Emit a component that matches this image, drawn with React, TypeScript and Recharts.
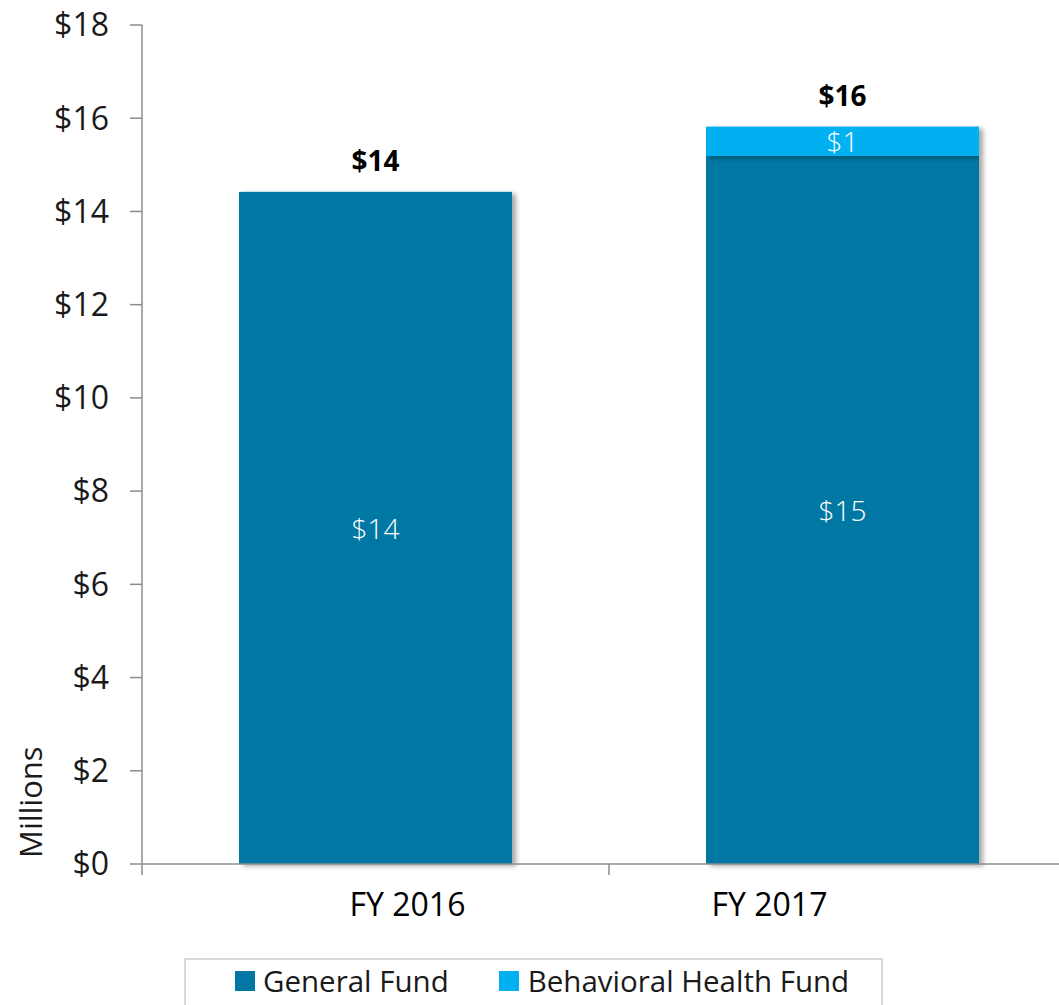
import React from 'react';
import { BarChart, Bar, XAxis, YAxis, LabelList, Legend } from 'recharts';

const categories = ['FY 2016', 'FY 2017'];
const generalFund = [14.42, 15.19];
const behavioralHealthFund = [0, 0.63];
const yTicks = [0, 2, 4, 6, 8, 10, 12, 14, 16, 18];

const GENERAL_COLOR = '#0078A3';
const BH_COLOR = '#00B0F0';
const AXIS_COLOR = '#8c8c8c';
const FONT = '"Open Sans", "Noto Sans", sans-serif';

const data = categories.map((name, i) => ({
  name,
  general: generalFund[i],
  bh: behavioralHealthFund[i],
  total: generalFund[i] + behavioralHealthFund[i],
}));

const money = (v: number) => `$${Math.round(v)}`;

const ShadowRect = (props: any) => {
  const { x, y, width, height, fill } = props;
  if (!height || height <= 0) return null;
  return <rect x={x} y={y} width={width} height={height} fill={fill} filter="url(#barShadow)" />;
};

const InnerLabel = (props: any) => {
  const { x, y, width, height, value } = props;
  if (!value || value <= 0) return null;
  return (
    <text
      x={x + width / 2}
      y={y + height / 2}
      textAnchor="middle"
      dominantBaseline="central"
      fill="#ffffff"
      fontSize={28}
      fontFamily={FONT}
      fontWeight={300}
    >
      {money(value)}
    </text>
  );
};

const TotalLabel = (props: any) => {
  const { x, y, width, index } = props;
  const d = data[index];
  if (!d) return null;
  return (
    <text
      x={x + width / 2}
      y={y - 21}
      textAnchor="middle"
      fill="#000000"
      fontSize={28}
      fontWeight={700}
      fontFamily={FONT}
    >
      {money(d.total)}
    </text>
  );
};

// label text in the reference sits off the category centre (as in the source slide)
const LABEL_SHIFT = [32, -73];

const XTick = (props: any) => {
  const { x, y, payload, index } = props;
  const half = payload && payload.offset ? payload.offset : 0;
  const axisY = y - 29;
  const shift = LABEL_SHIFT[index] || 0;
  return (
    <g>
      <line x1={x - half} x2={x - half} y1={axisY} y2={axisY + 11} stroke={AXIS_COLOR} strokeWidth={1.5} />
      {index === data.length - 1 && (
        <line x1={x + half} x2={x + half} y1={axisY} y2={axisY + 11} stroke={AXIS_COLOR} strokeWidth={1.5} />
      )}
      <text
        x={x + shift}
        y={y}
        dy="0.71em"
        textAnchor="middle"
        fill="#000000"
        fontSize={32}
        fontFamily={FONT}
      >
        {payload.value}
      </text>
    </g>
  );
};

const MillionsLabel = (props: any) => {
  const { viewBox } = props;
  const vx = viewBox ? viewBox.x : 0;
  const vy = viewBox ? viewBox.y : 0;
  const vh = viewBox ? viewBox.height : 0;
  return (
    <text
      transform={`translate(${vx + 42}, ${vy + vh - 6}) rotate(-90)`}
      textAnchor="start"
      fill="#1a1a1a"
      fontSize={31}
      fontFamily={FONT}
    >
      Millions
    </text>
  );
};

const LegendContent = () => (
  <div
    style={{
      boxSizing: 'border-box',
      width: '100%',
      height: '100%',
      border: '2px solid #d9d9d9',
      fontFamily: FONT,
      fontSize: 29.5,
      color: '#1a1a1a',
      display: 'flex',
      alignItems: 'flex-start',
      paddingLeft: 49,
      paddingTop: 0,
      whiteSpace: 'nowrap',
    }}
  >
    <div style={{ display: 'flex', alignItems: 'center' }}>
      <span style={{ display: 'inline-block', width: 20, height: 20, background: GENERAL_COLOR, marginRight: 8 }} />
      <span>General Fund</span>
    </div>
    <div style={{ display: 'flex', alignItems: 'center', marginLeft: 50 }}>
      <span style={{ display: 'inline-block', width: 20, height: 20, background: BH_COLOR, marginRight: 9 }} />
      <span>Behavioral Health Fund</span>
    </div>
  </div>
);

export default function App() {
  return (
    <div
      style={{
        position: 'absolute',
        left: 0,
        top: 0,
        width: 1059,
        height: 1005,
        overflow: 'hidden',
        background: '#ffffff',
        fontFamily: FONT,
      }}
    >
      <BarChart
        width={1080}
        height={1005}
        data={data}
        margin={{ top: 25, right: 4, bottom: 81, left: 0 }}
        barCategoryGap={0}
      >
        <defs>
          <filter id="barShadow" x="-10%" y="-10%" width="130%" height="130%">
            <feDropShadow dx={4} dy={2} stdDeviation={2.5} floodColor="#000000" floodOpacity={0.35} />
          </filter>
        </defs>
        <XAxis
          dataKey="name"
          height={60}
          tickLine={false}
          tickSize={10}
          tickMargin={19}
          interval={0}
          axisLine={{ stroke: AXIS_COLOR, strokeWidth: 1.5 }}
          tick={<XTick />}
        />
        <YAxis
          width={142}
          domain={[0, 18]}
          ticks={yTicks}
          interval={0}
          tickFormatter={(v: number) => `$${v}`}
          tickSize={12}
          tickMargin={21}
          axisLine={{ stroke: AXIS_COLOR, strokeWidth: 1.5 }}
          tickLine={{ stroke: AXIS_COLOR, strokeWidth: 1.5 }}
          tick={{ fill: '#1a1a1a', fontSize: 32, fontFamily: FONT }}
          label={<MillionsLabel />}
        />
        <Legend
          layout="horizontal"
          verticalAlign="middle"
          align="center"
          content={<LegendContent />}
          wrapperStyle={{ left: 184, top: 958, width: 699, height: 60 }}
        />
        <Bar
          dataKey="general"
          stackId="a"
          fill={GENERAL_COLOR}
          barSize={273}
          shape={<ShadowRect />}
          isAnimationActive={false}
        >
          <LabelList dataKey="general" content={<InnerLabel />} />
        </Bar>
        <Bar
          dataKey="bh"
          stackId="a"
          fill={BH_COLOR}
          barSize={273}
          shape={<ShadowRect />}
          isAnimationActive={false}
        >
          <LabelList dataKey="bh" content={<InnerLabel />} />
          <LabelList dataKey="total" content={<TotalLabel />} />
        </Bar>
      </BarChart>
    </div>
  );
}
